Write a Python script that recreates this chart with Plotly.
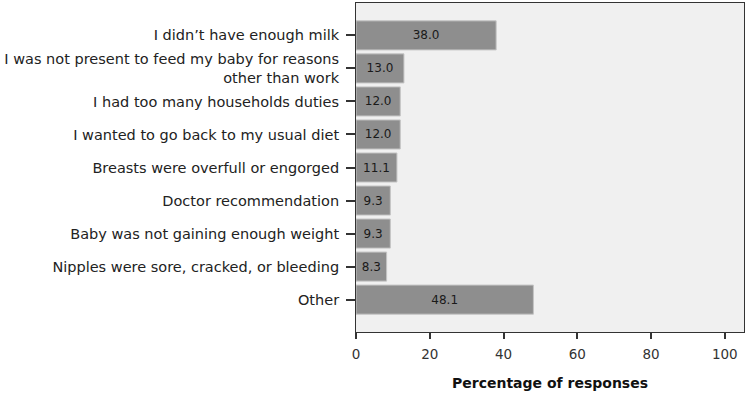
import plotly.graph_objects as go

categories = [
    "I didn\u2019t have enough milk",
    "I was not present to feed my baby for reasons<br>other than work",
    "I had too many households duties",
    "I wanted to go back to my usual diet",
    "Breasts were overfull or engorged",
    "Doctor recommendation",
    "Baby was not gaining enough weight",
    "Nipples were sore, cracked, or bleeding",
    "Other",
]
values = [38.0, 13.0, 12.0, 12.0, 11.1, 9.3, 9.3, 8.3, 48.1]
x_ticks = [0, 20, 40, 60, 80, 100]

FONT = "DejaVu Sans"

fig = go.Figure(
    go.Bar(
        x=values,
        y=categories,
        orientation="h",
        width=0.88,
        marker=dict(color="#8e8e8e", line=dict(color="#c4c4c4", width=1)),
        text=[f"{v:.1f}" for v in values],
        textposition="inside",
        insidetextanchor="middle",
        textfont=dict(family=FONT, size=12, color="#1a1a1a"),
        cliponaxis=False,
    )
)

fig.update_layout(
    width=749,
    height=396,
    margin=dict(l=356, r=5, t=3, b=64),
    paper_bgcolor="white",
    plot_bgcolor="#f0f0f0",
    showlegend=False,
    uniformtext=dict(minsize=12, mode="show"),
    font=dict(family=FONT, size=14.5, color="#222222"),
)

fig.update_yaxes(
    range=[8.98, -0.98],
    autorange=False,
    showgrid=False,
    zeroline=False,
    showline=True,
    linecolor="#333333",
    linewidth=1,
    mirror=True,
    ticks="outside",
    ticklen=9,
    tickwidth=1.5,
    tickcolor="#333333",
    tickfont=dict(family=FONT, size=14.5, color="#222222"),
    ticklabelstandoff=4,
)

fig.update_xaxes(
    range=[0, 105.2],
    autorange=False,
    tickvals=x_ticks,
    ticktext=[str(t) for t in x_ticks],
    showgrid=False,
    zeroline=False,
    showline=True,
    linecolor="#333333",
    linewidth=1,
    mirror=True,
    ticks="outside",
    ticklen=6,
    tickwidth=1.5,
    tickcolor="#333333",
    tickfont=dict(family=FONT, size=13.5, color="#333333"),
    ticklabelstandoff=4,
    title=dict(
        text="<b>Percentage of responses</b>",
        font=dict(family=FONT, size=14, color="#111111"),
        standoff=16,
    ),
)

fig.write_html("out.html")
